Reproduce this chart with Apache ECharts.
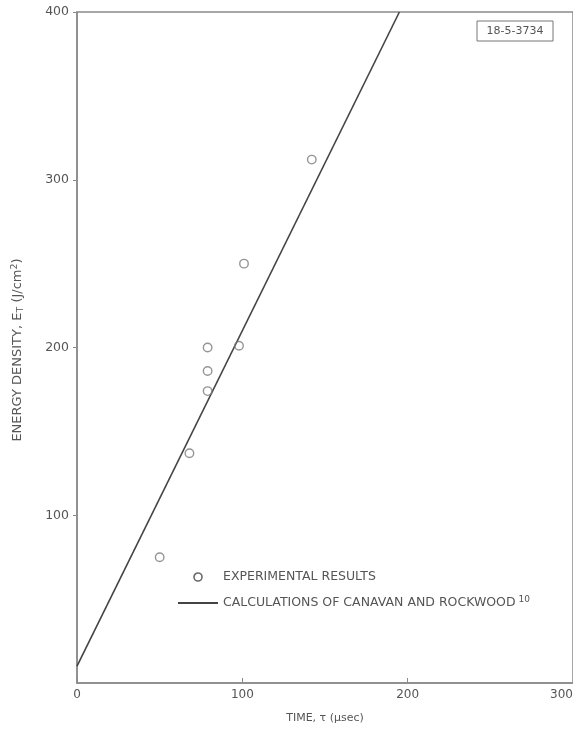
<!DOCTYPE html>
<html>
<head>
<meta charset="utf-8">
<script src="https://cdn.jsdelivr.net/npm/echarts@6/dist/echarts.min.js"></script>
<style>
  html, body { margin: 0; padding: 0; background: #fff; }
  #chart { width: 573px; height: 736px; }
</style>
</head>
<body>
<div id="chart"></div>
<script>
// Measured threshold energy density vs. pulse time
const experimentalTime = [50, 68, 79, 79, 79, 98, 101, 142];
const experimentalEnergy = [75, 137, 200, 186, 174, 201, 250, 312];

// Calculated line (Canavan and Rockwood)
const calcTime = [0, 195];
const calcEnergy = [10, 400];

const xTicks = [0, 100, 200, 300];
const yTicks = [100, 200, 300, 400];

const ink = '#555';
const font = 'DejaVu Sans';
const expName = 'EXPERIMENTAL RESULTS';
const calcName = 'CALCULATIONS OF CANAVAN AND ROCKWOOD';

const chart = echarts.init(document.getElementById('chart'), null, { renderer: 'canvas' });

chart.setOption({
  backgroundColor: '#fff',
  animation: false,
  grid: {
    left: 77, right: 0, top: 12, bottom: 53,
    outerBoundsMode: 'none',
    show: true, borderColor: '#8a8a8a', borderWidth: 1.5
  },
  xAxis: {
    type: 'value', min: 0, max: 300, interval: 100,
    name: 'TIME, τ (μsec)', nameLocation: 'middle', nameGap: 30,
    nameTextStyle: { color: ink, fontFamily: font, fontSize: 11 },
    axisLine: { lineStyle: { color: '#8a8a8a', width: 1.5 } },
    axisTick: { inside: true, length: 5, lineStyle: { color: '#8a8a8a' } },
    axisLabel: {
      color: ink, fontFamily: font, fontSize: 12, margin: 6,
      alignMaxLabel: 'right',
      formatter: v => xTicks.includes(v) ? String(v) : ''
    },
    splitLine: { show: false }
  },
  yAxis: {
    type: 'value', min: 0, max: 400, interval: 100,
    axisLine: { show: true, lineStyle: { color: '#8a8a8a', width: 1.5 } },
    axisTick: { show: true, length: 4, lineStyle: { color: '#8a8a8a' } },
    axisLabel: {
      color: ink, fontFamily: font, fontSize: 12.5, margin: 8,
      showMinLabel: false,
      formatter: v => yTicks.includes(v) ? String(v) : ''
    },
    splitLine: { show: false }
  },
  legend: {
    orient: 'vertical', left: 177, top: 569, padding: 0,
    itemWidth: 40, itemHeight: 8, itemGap: 10,
    textStyle: {
      color: ink, fontFamily: font, fontSize: 12.5, lineHeight: 16,
      rich: {
        sup: { color: ink, fontFamily: font, fontSize: 9, lineHeight: 16, verticalAlign: 'top', padding: [0, 0, 0, 3] }
      }
    },
    formatter: name => name === calcName ? name + '{sup|10}' : name,
    data: [
      { name: expName, icon: 'circle', itemStyle: { color: 'rgba(255,255,255,0)', borderColor: '#444', borderWidth: 1.6 } },
      { name: calcName, itemStyle: { color: 'rgba(0,0,0,0)', borderWidth: 0 } }
    ]
  },
  series: [
    {
      name: expName,
      type: 'scatter',
      symbol: 'circle', symbolSize: 8.5,
      itemStyle: { color: 'rgba(255,255,255,0)', borderColor: '#7a7a7a', borderWidth: 1.4 },
      data: experimentalTime.map((t, i) => [t, experimentalEnergy[i]]),
      z: 3
    },
    {
      name: calcName,
      type: 'line',
      symbol: 'none',
      lineStyle: { color: '#444', width: 1.6 },
      itemStyle: { color: '#444' },
      data: calcTime.map((t, i) => [t, calcEnergy[i]]),
      z: 2
    }
  ],
  graphic: [
    {
      // drawing number tag
      type: 'rect', shape: { x: 477, y: 21, width: 76, height: 20 },
      style: { fill: 'none', stroke: '#777', lineWidth: 1 }
    },
    {
      type: 'text', x: 515, y: 31,
      style: {
        text: '18-5-3734', fill: ink, font: '11px "DejaVu Sans"',
        align: 'center', verticalAlign: 'middle'
      }
    },
    {
      // y-axis title
      type: 'text', x: 18, y: 350, rotation: Math.PI / 2,
      style: {
        text: '{n|ENERGY DENSITY, E}{sub|T}{n| (J/cm}{sup|2}{n|)}',
        align: 'center', verticalAlign: 'middle',
        rich: {
          n: { fill: ink, fontFamily: font, fontSize: 13, lineHeight: 16, verticalAlign: 'middle' },
          sub: { fill: ink, fontFamily: font, fontSize: 9.5, lineHeight: 16, verticalAlign: 'bottom' },
          sup: { fill: ink, fontFamily: font, fontSize: 9.5, lineHeight: 16, verticalAlign: 'top' }
        }
      }
    }
  ]
});
</script>
</body>
</html>
